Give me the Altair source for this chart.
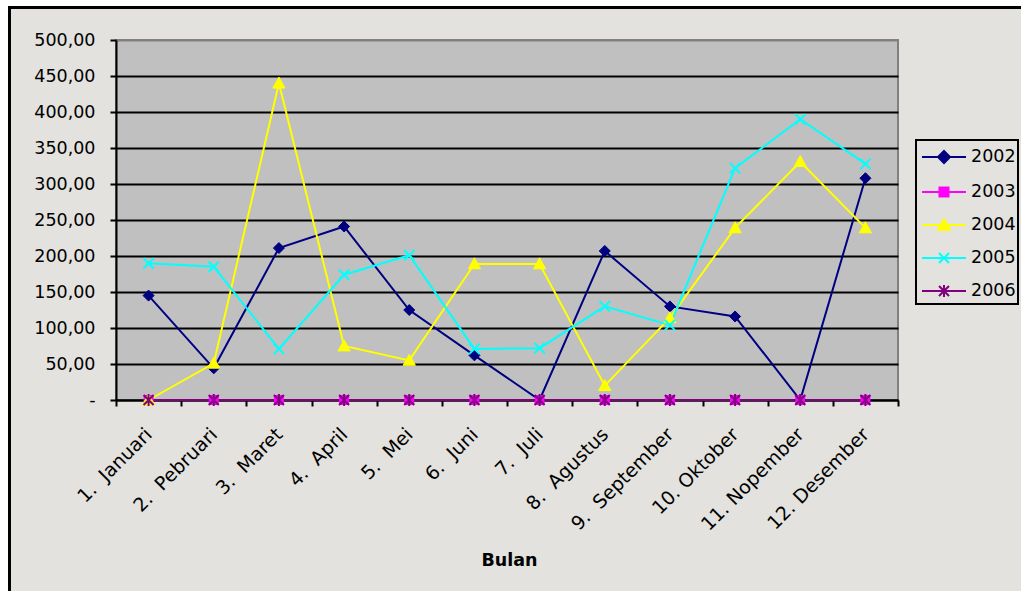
import altair as alt
import pandas as pd

# Monthly values per year (Bulan = month)
bulan = ["1.\u00a0\u00a0Januari", "2.\u00a0\u00a0Pebruari", "3.\u00a0\u00a0Maret",
         "4.\u00a0\u00a0April", "5.\u00a0\u00a0Mei", "6.\u00a0\u00a0Juni",
         "7.\u00a0\u00a0Juli", "8.\u00a0\u00a0Agustus", "9.\u00a0\u00a0September",
         "10. Oktober", "11. Nopember", "12. Desember"]
tahun = ["2002", "2003", "2004", "2005", "2006"]

v2002 = [145, 44, 211, 241, 125, 62, 0, 207, 130, 116, 0, 308]
v2003 = [0, 0, 0, 0, 0, 0, 0, 0, 0, 0, 0, 0]
v2004 = [0, 51, 440, 75, 55, 189, 189, 20, 114, 239, 331, 239]
v2005 = [190, 185, 71, 174, 201, 71, 72, 130, 104, 322, 390, 328]
v2006 = [0, 0, 0, 0, 0, 0, 0, 0, 0, 0, 0, 0]

y_ticks = [0, 50, 100, 150, 200, 250, 300, 350, 400, 450, 500]

warna = ["#000080", "#FF00FF", "#FFFF00", "#00FFFF", "#800080"]

series = {"2002": v2002, "2003": v2003, "2004": v2004, "2005": v2005, "2006": v2006}
rows = []
for th in tahun:
    for b, v in zip(bulan, series[th]):
        rows.append({"Bulan": b, "Tahun": th, "Nilai": v})
df = pd.DataFrame(rows)

FONT = "DejaVu Sans"
W, H = 782, 360
LEFT, TOP = 116, 40

# marker shapes for the plotted points (unit square paths)
marker_paths = [
    ("M0,-1L1,0L0,1L-1,0Z", 121, 1),            # diamond
    ("M-1,-1H1V1H-1Z", 81, 1),                  # square
    ("M0,-1L1,0.8L-1,0.8Z", 150, 1),            # triangle
    ("M-1,-1L1,1M1,-1L-1,1", 110, 2),           # x
    ("M-1,-1L1,1M1,-1L-1,1M0,-1.2V1.2", 100, 2),  # star
]

# legend symbols: a short line with the marker in the middle
LEG_SYM = 28.0
u = LEG_SYM / 2.0
cx = 11.0
x0, x1 = -22.0 + cx, 22.0 + cx


def p(v):
    return f"{v / u:.3f}"


m = 6.0
seg = f"M{p(x0)},0H{p(x1)}"
legend_paths = [
    seg + f"M{p(cx)},{p(-m)}L{p(cx + m)},0L{p(cx)},{p(m)}L{p(cx - m)},0Z",
    seg + f"M{p(cx - 4.5)},{p(-4.5)}H{p(cx + 4.5)}V{p(4.5)}H{p(cx - 4.5)}Z",
    seg + f"M{p(cx)},{p(-m)}L{p(cx + m)},{p(5)}L{p(cx - m)},{p(5)}Z",
    seg + f"M{p(cx - 5)},{p(-5)}L{p(cx + 5)},{p(5)}M{p(cx + 5)},{p(-5)}L{p(cx - 5)},{p(5)}",
    seg + f"M{p(cx - 5)},{p(-5)}L{p(cx + 5)},{p(5)}M{p(cx + 5)},{p(-5)}L{p(cx - 5)},{p(5)}M{p(cx)},{p(-6)}V{p(6)}",
]

col_scale = alt.Scale(domain=tahun, range=warna)

x_enc = alt.X(
    "Bulan:N", sort=bulan,
    scale=alt.Scale(type="band", domain=bulan, paddingInner=0, paddingOuter=0),
    axis=alt.Axis(
        title="Bulan", titleFont=FONT, titleFontSize=17.5, titleFontWeight="bold",
        titleColor="black", titleX=393, titleY=165, titleBaseline="alphabetic",
        labelAngle=-45, labelAlign="right", labelBaseline="middle",
        labelFont=FONT, labelFontSize=19, labelColor="black", labelPadding=25,
        labelOverlap=False, labelLimit=0,
        tickBand="extent", tickSize=6, tickWidth=2, tickColor="black",
        domainColor="black", domainWidth=2, grid=False,
    ),
)
y_enc = alt.Y(
    "Nilai:Q",
    scale=alt.Scale(domain=[0, 500], nice=False, zero=True),
    axis=alt.Axis(
        title=None, values=y_ticks,
        labelExpr="datum.value == 0 ? '-' : replace(format(datum.value, '.2f'), '.', ',')",
        labelFont=FONT, labelFontSize=17.5, labelColor="black", labelPadding=15,
        tickSize=6, tickWidth=2, tickColor="black",
        domainColor="black", domainWidth=2,
        grid=True, gridWidth=2,
        gridColor={"condition": {"test": "datum.value == 500", "value": "#808080"}, "value": "black"},
    ),
)

leg = alt.Legend(
    title=None, orient="none", legendX=800, legendY=100,
    symbolSize=LEG_SYM * LEG_SYM, symbolStrokeWidth=2, symbolOpacity=1,
    labelFont=FONT, labelFontSize=17.5, labelColor="black", labelOffset=23,
    rowPadding=9, padding=2, fillColor="#E3E2DE", strokeColor="black",
    symbolLimit=0,
)

legend_layer = (
    alt.Chart(df)
    .transform_filter("false")
    .mark_point(filled=True, opacity=1, strokeWidth=2)
    .encode(
        color=alt.Color("Tahun:N", scale=col_scale, legend=leg),
        stroke=alt.Stroke("Tahun:N", scale=col_scale, legend=leg),
        shape=alt.Shape("Tahun:N", scale=alt.Scale(domain=tahun, range=legend_paths), legend=leg),
    )
)

lines = alt.Chart(df).mark_line(strokeWidth=2).encode(
    x=x_enc, y=y_enc,
    color=alt.Color("Tahun:N", scale=col_scale, legend=None),
)

point_layers = []
for th, (shp, size, sw) in zip(tahun, marker_paths):
    point_layers.append(
        alt.Chart(df)
        .transform_filter(alt.datum.Tahun == th)
        .mark_point(shape=shp, size=size, filled=True, opacity=1, strokeWidth=sw)
        .encode(
            x=x_enc, y=y_enc,
            color=alt.Color("Tahun:N", scale=col_scale, legend=None),
            stroke=alt.Stroke("Tahun:N", scale=col_scale, legend=None),
        )
    )

# white margin outside the outer frame, then the black frame itself
one = alt.Data(values=[{}])
margin = alt.Chart(one).mark_rect(fill=None, stroke="white", strokeWidth=16).encode(
    x=alt.value(-LEFT), y=alt.value(-TOP), x2=alt.value(1100 - LEFT), y2=alt.value(700 - TOP)
)
frame = alt.Chart(one).mark_rect(fill=None, stroke="black", strokeWidth=3).encode(
    x=alt.value(9.5 - LEFT), y=alt.value(7.5 - TOP), x2=alt.value(1060 - LEFT), y2=alt.value(640 - TOP)
)

chart = (
    alt.layer(legend_layer, lines, *point_layers, margin, frame)
    .properties(
        width=W, height=H,
        autosize=alt.AutoSizeParams(type="none"),
        padding={"left": LEFT, "top": TOP, "right": 1021 - LEFT - W, "bottom": 591 - TOP - H},
        background="#E3E2DE",
    )
    .configure_view(fill="#C0C0C0", stroke="#808080", strokeWidth=2)
    .configure_legend(strokeWidth=2)
)

chart.save("out.html", embed_options={"renderer": "svg", "actions": False})
